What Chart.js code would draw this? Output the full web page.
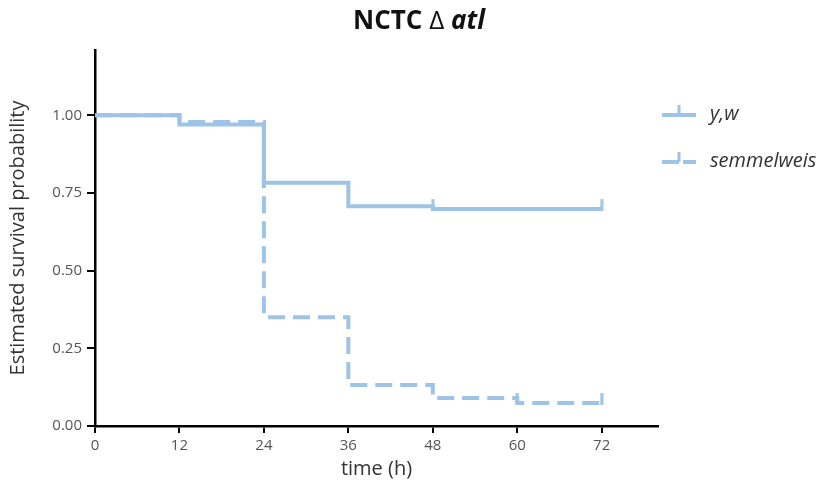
<!DOCTYPE html>
<html><head><meta charset="utf-8">
<script src="https://cdn.jsdelivr.net/npm/chart.js@4"></script>
<style>
html,body{margin:0;padding:0;background:#fff;}
#wrap{position:relative;width:830px;height:485px;}
#title{position:absolute;left:4px;width:830px;top:2px;text-align:center;font-family:"Open Sans",sans-serif;font-size:26px;font-weight:bold;color:#111;line-height:34px;}
#title .d{font-weight:normal;}
#title .i{font-style:italic;}
.leg{position:absolute;left:662px;font-family:"Open Sans",sans-serif;font-style:italic;font-size:20px;color:#333;display:flex;align-items:center;line-height:24px;}
.leg svg{margin-right:14px;}
</style></head>
<body><div id="wrap">
<canvas id="c" width="830" height="485"></canvas>
<div id="title">NCTC <span class="d">Δ</span> <span class="i">atl</span></div>
<div class="leg" style="top:101px"><svg width="34" height="24"><line x1="0" y1="14" x2="34" y2="14" stroke="#9dc3e6" stroke-width="4"/><line x1="17" y1="4" x2="17" y2="14" stroke="#9dc3e6" stroke-width="3"/></svg><span>y,w</span></div>
<div class="leg" style="top:148px"><svg width="34" height="24"><line x1="0" y1="14" x2="12" y2="14" stroke="#9dc3e6" stroke-width="4"/><line x1="21" y1="14" x2="34" y2="14" stroke="#9dc3e6" stroke-width="4"/><line x1="17" y1="4" x2="17" y2="14" stroke="#9dc3e6" stroke-width="3"/><line x1="12" y1="14" x2="17" y2="14" stroke="#9dc3e6" stroke-width="4"/></svg><span>semmelweis</span></div>
</div>
<script>
const xTicks = [0, 12, 24, 36, 48, 60, 72];
const yTicks = [0, 0.25, 0.5, 0.75, 1.0];
const ywTimes = [0, 12, 24, 36, 48, 72];
const ywSurv = [1.0, 0.97, 0.783, 0.707, 0.698, 0.698];
const ywCensor = [false, false, false, false, true, true];
const semTimes = [0, 12, 24, 36, 48, 60, 72];
const semSurv = [1.0, 0.978, 0.35, 0.132, 0.09, 0.074, 0.074];
const semCensor = [false, false, false, false, false, true, true];

const COLOR = '#9dc3e6';
function censorMark(){
  const cv = document.createElement('canvas');
  cv.width = 4; cv.height = 24;
  const g = cv.getContext('2d');
  g.fillStyle = COLOR;
  g.fillRect(0.5, 2, 3, 12);
  return cv;
}
const mark = censorMark();
function pts(t, s){ return t.map((x,i)=>({x:x, y:s[i]})); }

new Chart(document.getElementById('c'), {
  type: 'line',
  data: {
    datasets: [
      { label: 'y,w', data: pts(ywTimes, ywSurv), stepped: true, borderColor: COLOR, borderWidth: 4,
        pointStyle: mark, pointRadius: ywCensor.map(c=>c?6:0), pointHoverRadius: 0, fill:false },
      { label: 'semmelweis', data: pts(semTimes, semSurv), stepped: true, borderColor: COLOR, borderWidth: 4,
        borderDash: [17, 8], pointStyle: mark, pointRadius: semCensor.map(c=>c?6:0), pointHoverRadius: 0, fill:false }
    ]
  },
  options: {
    responsive: false, animation: false,
    layout: { padding: { left: 0, top: 50, right: 172, bottom: 0 } },
    plugins: { legend: { display: false }, tooltip: { enabled: false }, title: { display: false } },
    scales: {
      x: {
        type: 'linear', min: 0, max: 80,
        afterBuildTicks: s => { s.ticks = xTicks.map(v=>({value:v})); },
        afterFit: s => { s.height = 59; },
        grid: { drawOnChartArea: false, drawTicks: true, tickLength: 7, color: '#000', lineWidth: 2 },
        border: { display: true, color: '#000', width: 2.5 },
        ticks: { color: '#555', font: { family: 'Open Sans', size: 15 }, padding: 4, maxRotation: 0 },
        title: { display: true, text: 'time (h)', color: '#333', font: { family: 'Open Sans', size: 20 }, padding: { top: -8 } }
      },
      y: {
        min: 0, max: 1.21,
        afterBuildTicks: s => { s.ticks = yTicks.map(v=>({value:v})); },
        afterFit: s => { s.width = 95; },
        grid: { drawOnChartArea: false, drawTicks: true, tickLength: 8, color: '#000', lineWidth: 2 },
        border: { display: true, color: '#000', width: 2.5 },
        ticks: { color: '#555', font: { family: 'Open Sans', size: 15 }, padding: 5, callback: v => v.toFixed(2) },
        title: { display: true, text: 'Estimated survival probability', color: '#333', font: { family: 'Open Sans', size: 20 }, padding: { top: 6, bottom: 0 } }
      }
    }
  }
});
</script>
</body></html>
